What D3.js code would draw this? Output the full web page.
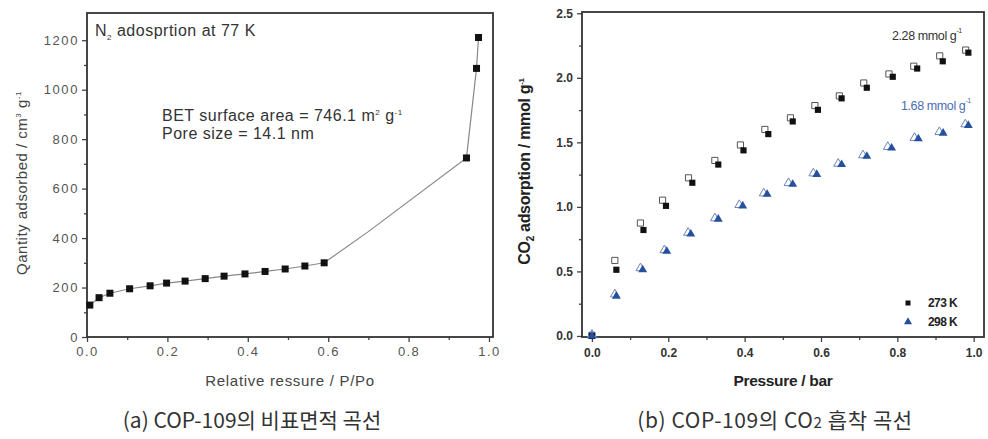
<!DOCTYPE html>
<html><head><meta charset="utf-8">
<script src="https://cdn.jsdelivr.net/npm/d3@7/dist/d3.min.js"></script>
<style>
body{margin:0;background:#fff;}
svg{display:block;}
text{font-family:"Liberation Sans",Arial,sans-serif;}
</style></head>
<body><svg id="c" width="988" height="439"></svg>
<script>
// ---- Left chart: N2 adsorption at 77 K ----
const n2P = [0.007,0.030,0.057,0.106,0.157,0.198,0.244,0.294,0.341,0.393,0.443,0.493,0.542,0.590,0.944,0.969,0.974];
const n2Q = [129,159,177,195,207,218,226,236,246,255,265,275,287,300,724,1086,1211];
// unmarked points on the connecting line
const n2LineP = [0.007,0.030,0.057,0.106,0.157,0.198,0.244,0.294,0.341,0.393,0.443,0.493,0.542,0.590,0.699,0.944,0.969,0.974];
const n2LineQ = [129,159,177,195,207,218,226,236,246,255,265,275,287,300,425,724,1086,1211];
const leftXTicks = [0,0.2,0.4,0.6,0.8,1.0];
const leftYTicks = [0,200,400,600,800,1000,1200];

// ---- Right chart: CO2 adsorption ----
const co2P273 = [0,0.064,0.135,0.194,0.263,0.331,0.397,0.462,0.526,0.592,0.654,0.720,0.788,0.852,0.919,0.986];
const co2A273 = [0,0.513,0.821,1.008,1.187,1.328,1.438,1.564,1.662,1.752,1.841,1.923,2.008,2.072,2.128,2.195];
const desP273 = [0,0.060,0.127,0.185,0.253,0.322,0.389,0.453,0.520,0.584,0.648,0.712,0.778,0.843,0.911,0.979];
const desA273 = [0.005,0.585,0.875,1.052,1.225,1.360,1.480,1.600,1.690,1.785,1.860,1.960,2.030,2.090,2.170,2.215];
const co2P298 = [0,0.064,0.133,0.196,0.259,0.331,0.395,0.459,0.526,0.589,0.654,0.720,0.785,0.855,0.920,0.986];
const co2A298 = [0,0.308,0.513,0.656,0.790,0.905,1.008,1.098,1.175,1.252,1.328,1.392,1.456,1.528,1.572,1.631];
const desP298 = [0,0.060,0.127,0.190,0.252,0.322,0.386,0.450,0.515,0.580,0.645,0.710,0.775,0.845,0.910,0.978];
const desA298 = [0.010,0.322,0.525,0.665,0.800,0.912,1.015,1.105,1.185,1.260,1.335,1.400,1.465,1.535,1.580,1.640];
const rightXTicks = [0,0.2,0.4,0.6,0.8,1.0];
const rightYTicks = [0,0.5,1.0,1.5,2.0,2.5];
const seriesLabels = ["273 K","298 K"];

const svg = d3.select("#c");

function styleAxis(g, col, fs, weight, ls){
  g.select(".domain").remove();
  g.selectAll("line").attr("stroke","#444").attr("stroke-width",1.3);
  g.selectAll("text").attr("fill",col).style("font-size",fs+"px").style("font-weight",weight).style("letter-spacing",ls+"px");
}

// ======== LEFT ========
{
  const L={x0:87,x1:493,y0:13,y1:337};
  const x=d3.scaleLinear().domain([0,1.01]).range([L.x0,L.x1]);
  const y=d3.scaleLinear().domain([0,1310]).range([L.y1,L.y0]);
  const g=svg.append("g");
  g.append("g").attr("transform",`translate(0,${L.y1})`)
    .call(d3.axisBottom(x).tickValues(d3.range(0.1,1.01,0.2)).tickSize(3).tickFormat(""))
    .call(a=>styleAxis(a,"#555",13,"normal",0));
  g.append("g").attr("transform",`translate(${L.x0},0)`)
    .call(d3.axisLeft(y).tickValues(d3.range(100,1300,200)).tickSize(3).tickFormat(""))
    .call(a=>styleAxis(a,"#555",13,"normal",0));
  g.append("g").attr("transform",`translate(0,${L.y1})`)
    .call(d3.axisBottom(x).tickValues(leftXTicks).tickSize(5).tickPadding(5).tickFormat(d3.format(".1f")))
    .call(a=>styleAxis(a,"#555",13,"normal",1.4));
  g.append("g").attr("transform",`translate(${L.x0},0)`)
    .call(d3.axisLeft(y).tickValues(leftYTicks).tickSize(5).tickPadding(3).tickFormat(d=>d))
    .call(a=>styleAxis(a,"#555",13,"normal",1.6));
  g.append("rect").attr("x",L.x0).attr("y",L.y0).attr("width",L.x1-L.x0).attr("height",L.y1-L.y0)
    .attr("fill","none").attr("stroke","#333").attr("stroke-width",1.8);
  const lineData=n2LineP.map((p,i)=>[p,n2LineQ[i]]);
  g.append("path").datum(lineData).attr("fill","none").attr("stroke","#888").attr("stroke-width",1.2)
    .attr("d",d3.line().x(d=>x(d[0])).y(d=>y(d[1])));
  g.selectAll("rect.pt").data(n2P.map((p,i)=>[p,n2Q[i]])).join("rect").attr("class","pt")
    .attr("x",d=>x(d[0])-3.5).attr("y",d=>y(d[1])-3.5).attr("width",7).attr("height",7).attr("fill","#111");
  const t1=g.append("text").attr("x",95).attr("y",36).attr("fill","#333").style("font-size","16px").style("letter-spacing","0.5px");
  t1.append("tspan").text("N");
  t1.append("tspan").attr("dy",4).style("font-size","8px").text("2");
  t1.append("tspan").attr("dy",-4).text(" adosprtion at 77 K");
  const t2=g.append("text").attr("x",162).attr("y",121).attr("fill","#333").style("font-size","16px").style("letter-spacing","0.5px");
  t2.append("tspan").text("BET surface area = 746.1  m");
  t2.append("tspan").attr("dy",-6).style("font-size","8px").text("2");
  t2.append("tspan").attr("dy",6).text(" g");
  t2.append("tspan").attr("dy",-6).style("font-size","8px").text("-1");
  g.append("text").attr("x",162).attr("y",139).attr("fill","#333").style("font-size","16px").style("letter-spacing","0.5px").text("Pore size =  14.1 nm");
  g.append("text").attr("x",(L.x0+L.x1)/2).attr("y",386).attr("text-anchor","middle").attr("fill","#444")
    .style("font-size","15px").style("letter-spacing","0.7px").text("Relative ressure / P/Po");
  const yt=g.append("text").attr("transform",`translate(27,${(L.y0+L.y1)/2+8}) rotate(-90)`).attr("text-anchor","middle")
    .attr("fill","#444").style("font-size","15px").style("letter-spacing","0.5px");
  yt.append("tspan").text("Qantity adsorbed / cm");
  yt.append("tspan").attr("dy",-6).style("font-size","8px").text("3");
  yt.append("tspan").attr("dy",6).text(" g");
  yt.append("tspan").attr("dy",-6).style("font-size","8px").text("-1");
  svg.append("text").attr("x",252).attr("y",428).attr("text-anchor","middle").attr("fill","#333")
    .style("font-family","'Noto Sans CJK KR',sans-serif").style("font-size","21px").text("(a) COP-109의 비표면적 곡선");
}

// ======== RIGHT ========
{
  const R={x0:582,x1:984,y0:12,y1:337};
  const x=d3.scaleLinear().domain([-0.026,1.027]).range([R.x0,R.x1]);
  const y=d3.scaleLinear().domain([-0.008,2.51]).range([R.y1,R.y0]);
  const g=svg.append("g");
  g.append("g").attr("transform",`translate(0,${R.y1})`)
    .call(d3.axisBottom(x).tickValues(d3.range(0.1,1.0,0.2)).tickSize(3).tickFormat(""))
    .call(a=>styleAxis(a,"#333",12,"bold",0));
  g.append("g").attr("transform",`translate(${R.x0},0)`)
    .call(d3.axisLeft(y).tickValues(d3.range(0.25,2.5,0.5)).tickSize(3).tickFormat(""))
    .call(a=>styleAxis(a,"#333",12,"bold",0));
  g.append("g").attr("transform",`translate(0,${R.y1})`)
    .call(d3.axisBottom(x).tickValues(rightXTicks).tickSize(5).tickPadding(6).tickFormat(d3.format(".1f")))
    .call(a=>styleAxis(a,"#333",12,"bold",0));
  g.append("g").attr("transform",`translate(${R.x0},0)`)
    .call(d3.axisLeft(y).tickValues(rightYTicks).tickSize(5).tickPadding(4).tickFormat(d3.format(".1f")))
    .call(a=>styleAxis(a,"#333",12,"bold",0));
  g.append("rect").attr("x",R.x0).attr("y",R.y0).attr("width",R.x1-R.x0).attr("height",R.y1-R.y0)
    .attr("fill","none").attr("stroke","#333").attr("stroke-width",1.8);
  const sq=d3.symbol().type(d3.symbolSquare).size(38);
  const tri=d3.symbol().type(d3.symbolTriangle).size(34);
  g.selectAll("path.d273").data(desP273.map((p,i)=>[p,desA273[i]])).join("path").attr("class","d273")
    .attr("transform",d=>`translate(${x(d[0])},${y(d[1])})`).attr("d",sq).attr("fill","#fff").attr("stroke","#555").attr("stroke-width",1);
  g.selectAll("path.d298").data(desP298.map((p,i)=>[p,desA298[i]])).join("path").attr("class","d298")
    .attr("transform",d=>`translate(${x(d[0])},${y(d[1])})`).attr("d",tri).attr("fill","#fff").attr("stroke","#6d84bd").attr("stroke-width",1);
  g.selectAll("path.a273").data(co2P273.map((p,i)=>[p,co2A273[i]])).join("path").attr("class","a273")
    .attr("transform",d=>`translate(${x(d[0])},${y(d[1])})`).attr("d",sq).attr("fill","#111");
  g.selectAll("path.a298").data(co2P298.map((p,i)=>[p,co2A298[i]])).join("path").attr("class","a298")
    .attr("transform",d=>`translate(${x(d[0])},${y(d[1])})`).attr("d",tri).attr("fill","#25509f");
  const a1=g.append("text").attr("x",892).attr("y",40).attr("fill","#333").style("font-size","12.5px").style("letter-spacing","-0.4px");
  a1.append("tspan").text("2.28 mmol g");
  a1.append("tspan").attr("dy",-7).style("font-size","7px").text("-1");
  const a2=g.append("text").attr("x",901).attr("y",110).attr("fill","#4a6db3").style("font-size","12.5px").style("letter-spacing","-0.4px");
  a2.append("tspan").text("1.68 mmol g");
  a2.append("tspan").attr("dy",-7).style("font-size","7px").text("-1");
  const lg=g.append("g");
  lg.append("path").attr("transform","translate(908,303)").attr("d",d3.symbol().type(d3.symbolSquare).size(25)).attr("fill","#111");
  lg.append("path").attr("transform","translate(908,322)").attr("d",d3.symbol().type(d3.symbolTriangle).size(28)).attr("fill","#25509f");
  lg.selectAll("text").data(seriesLabels).join("text").attr("x",928).attr("y",(d,i)=>307+i*19)
    .attr("fill","#222").style("font-size","12px").style("font-weight","bold").style("letter-spacing","-0.6px").text(d=>d);
  g.append("text").attr("x",(R.x0+R.x1)/2).attr("y",386).attr("text-anchor","middle").attr("fill","#222")
    .style("font-size","15.5px").style("font-weight","bold").style("letter-spacing","-0.3px").text("Pressure / bar");
  const yt=g.append("text").attr("transform",`translate(530,${(R.y0+R.y1)/2-3}) rotate(-90)`).attr("text-anchor","middle")
    .attr("fill","#222").style("font-size","16px").style("font-weight","bold").style("letter-spacing","-0.3px");
  yt.append("tspan").text("CO");
  yt.append("tspan").attr("dy",4).style("font-size","10px").text("2");
  yt.append("tspan").attr("dy",-4).text(" adsorption / mmol g");
  yt.append("tspan").attr("dy",-6).style("font-size","8px").text("-1");
  const cap=svg.append("text").attr("x",775).attr("y",428).attr("text-anchor","middle").attr("fill","#333")
    .style("font-family","'Noto Sans CJK KR',sans-serif").style("font-size","21px").style("letter-spacing","0.6px");
  cap.append("tspan").text("(b) COP-109의 CO");
  cap.append("tspan").style("font-size","15px").text("2");
  cap.append("tspan").text(" 흡착 곡선");
}
</script></body></html>
